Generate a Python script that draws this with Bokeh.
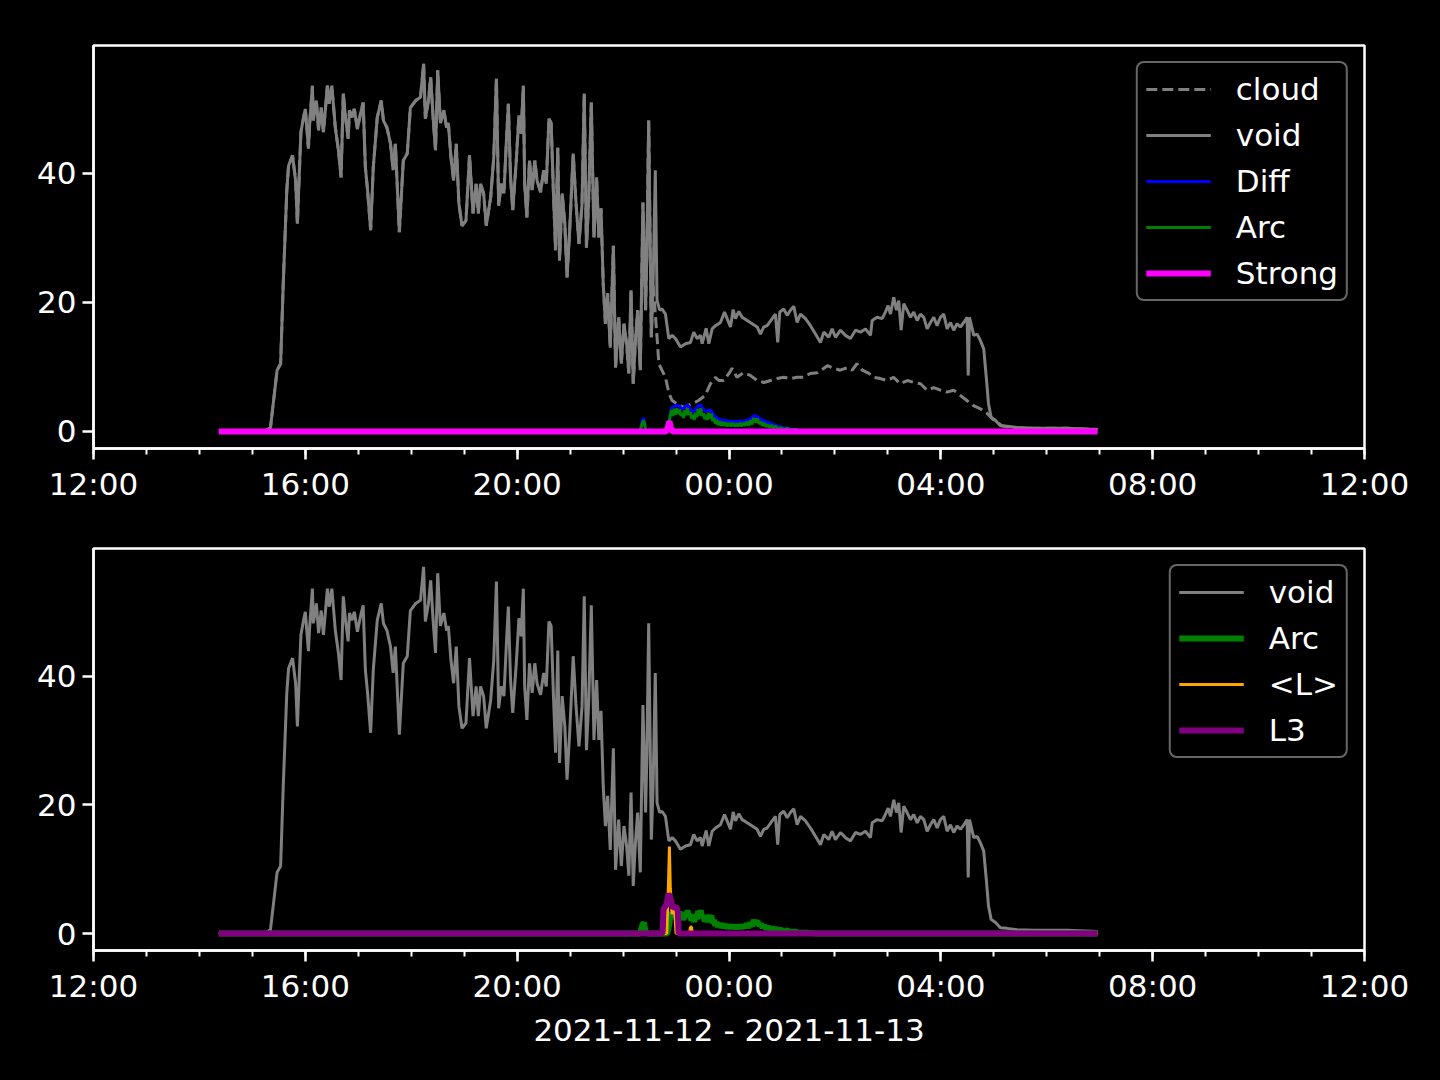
import pandas as pd
from bokeh.plotting import figure
from bokeh.models import Range1d, FixedTicker, DatetimeTickFormatter
from bokeh.layouts import column
from bokeh.embed import file_html
from bokeh.resources import INLINE

# ---------------- data (minutes after 2021-11-12 12:00) ----------------
START = "2021-11-12 12:00"
X_LABEL = "2021-11-12 - 2021-11-13"
major_tick_hours = [0, 4, 8, 12, 16, 20, 24]
minor_tick_hours = list(range(0, 25))
y_ticks = [0, 20, 40]

void_min = [142, 195, 200.5, 208, 212, 215, 219, 221, 225.5, 229, 231, 233, 235, 238, 240, 243.5,
            245, 248, 249, 252.5, 255, 258, 260.5, 265, 267, 270, 274, 277.5, 280.5, 283, 285.5,
            288.5, 290, 293, 295.5, 299, 302.5, 305.5, 308, 310.5, 314, 317, 321.5, 326, 328.5,
            332.5, 336.5, 339.5, 342, 346.5, 351, 355.5, 359, 365, 370.5, 374, 376, 379.5, 382,
            385, 387.5, 390, 393, 397, 400, 402, 405, 408, 411, 414, 417.5, 422, 426, 430, 433.5,
            436, 438.5, 442, 445, 450, 453.5, 456.5, 459, 462, 465, 468, 470, 472.5, 475, 479,
            482, 484.5, 487, 488.5, 491, 494, 497, 500, 502.5, 506.5, 510, 513, 516, 518.5, 521,
            523.5, 526, 528, 531, 534, 536.5, 539.5, 543.5, 546.5, 550, 553.5, 556, 558.5, 561,
            564, 567, 570, 572.5, 575, 577.5, 580, 582.5, 585.5, 589, 591.5, 595, 598, 601, 604,
            606.5, 609, 611.5, 614, 616.5, 619.5, 622.5, 625.5, 627, 629, 632, 634, 636.5, 638.5,
            641.5, 644, 648, 651.8, 655.6, 659.3, 665, 670.7, 676.3, 680.1, 683.9, 687.7, 689.6,
            694.1, 697.1, 700.9, 704.7, 710.3, 714.9, 717.9, 721.7, 724.7, 727.3, 731.1, 734.9,
            740.6, 746.3, 751.9, 755.6, 759.4, 763.2, 768.9, 772.6, 775.2, 777.5, 782, 785.9,
            789.6, 793.4, 797.2, 801, 806.6, 812.3, 818, 823.6, 827.4, 833, 836.8, 840.6, 846.3,
            851.9, 857.6, 863.3, 868.9, 874.6, 880.3, 882.2, 887.8, 893.5, 897.2, 900.3, 902.9,
            906.7, 909.7, 912.3, 915, 918, 921.8, 925.6, 929.3, 933.2, 936.9, 940.7, 944.5, 948.2,
            952, 955.8, 959.5, 963.3, 967.1, 970.9, 974.6, 978.4, 982.2, 986, 989.8, 991, 992.5,
            997.3, 1001.1, 1004.8, 1008.6, 1011.5, 1014, 1017, 1022, 1027.5, 1035, 1046.5, 1065,
            1103, 1137.5]
void_val = [0, 0.1, 0.6, 9.5, 10.5, 23, 37.4, 41.2, 42.8, 38.9, 32.2, 39.4, 46.4, 48.7, 50, 43.9,
            47.8, 53.6, 48.2, 51.3, 46.7, 50.2, 46.4, 53.6, 50.8, 53.6, 47.1, 43.6, 39.4, 52.4, 48.7,
            45.4, 49.8, 48.7, 50, 46.9, 49.3, 51, 41, 37.4, 31.2, 41, 48.7, 51.3, 48.2,
            47.1, 44.6, 40.5, 44.6, 30.9, 42, 43.1, 50.2, 51.3, 51.8, 57, 48.5, 51.3, 54.9,
            48.2, 43.6, 56, 47.8, 49.8, 47.1, 47.8, 42.5, 38.9, 44.6, 35.3, 31.9, 32.7, 42.8, 33.8, 38.4,
            33.8, 38.4, 36.9, 31.9, 36.3, 42.5, 54.7, 35, 38.4, 36.9, 45.6, 50.8, 39.4, 34.3, 42,
            49, 46.2, 53.6, 38.4, 33.2, 42, 37.4, 42, 38.9, 37.1, 40.5, 38.4, 48.5, 47.8, 37.4,
            28.1, 44, 26.5, 36.9, 32.2, 23.9, 31.2, 43.1, 35.8, 29.1, 35.3, 52.4, 28.5, 35.8,
            51, 30.1, 39.4, 30.1, 34.6, 22.9, 16.7, 21.4, 13, 28.8, 9.9, 17.7, 10.5, 16.7, 13.6,
            9, 21.9, 7.4, 14.1, 18.8, 9.5, 35.5, 18.8, 28.1, 48.2, 14.6, 22.9, 40.5, 20.3,
            18.8, 19.0, 18.2, 14.4, 14.9, 14.4, 13.1, 13.6, 13.8, 15.4, 14.4, 14.9, 13.6,
            16.0, 13.6, 15.9, 16.4, 16.9, 18.5, 17.5, 16.2, 18.9, 17.5, 18.6, 17.7,
            17.2, 16.7, 16.2, 15.1, 16.2, 16.4, 17.5, 18.2, 13.8, 18.5, 19.0, 18.0,
            18.8, 19.4, 16.9, 18.2, 17.5, 16.4, 15.1, 13.8, 15.4, 14.6, 15.9, 14.6, 15.7,
            14.9, 14.4, 15.7, 15.4, 15.9, 14.9, 17.2, 17.7, 17.5, 18.5, 19.5, 18.2,
            20.8, 18.8, 20.3, 15.7, 19.8, 18.8, 17.7, 18.5, 17.2, 18.2, 17.7, 15.9, 16.9,
            17.7, 16.4, 17.7, 18.2, 15.9, 16.9, 15.7, 16.7, 16.2, 16.9, 17.7, 8.7, 17.7,
            14.9, 15.1, 14.1, 12.8, 8.4, 4.3, 2.2, 1.7, 0.9, 0.8, 0.6, 0.5,
            0.5, 0.3]

cloud_split = 636.5
cloud_tail_min = [638.5, 640.5, 644, 648, 652, 655.5, 661, 669, 678, 685.5, 693, 699, 704.5, 708.5,
                  714, 720, 723.5, 729, 736.5, 744, 752, 759.5, 767, 774.5, 782, 789.5, 797, 804.5,
                  812, 820, 827.5, 831.5, 838.5, 846, 854, 859.5, 865, 871, 878.5, 884, 891.5, 899,
                  906.5, 914, 922, 929.5, 937, 944.5, 952, 959.5, 967, 974.5, 982, 989.5, 997, 1005,
                  1012.5, 1018, 1024, 1029.5, 1039, 1065, 1103, 1137.5]
cloud_tail_val = [14.6, 10.5, 9.5, 8.4, 5.9, 4.8, 4.3, 3.7, 4.3, 4.8, 5.6, 7.4, 8.4, 7.9,
                  7.9, 9, 9.8, 8.4, 9.1, 8.7, 7.9, 7.6, 7.9, 8.2, 8.4, 8.2, 8.4, 8.4,
                  9, 9.1, 9.8, 10.2, 9.8, 9.5, 9.9, 9.5, 10.5, 9.5, 9, 8.4, 8.2, 7.9,
                  8.4, 7.4, 7.9, 7.6, 7.4, 6.4, 6.8, 6.4, 6.1, 6.4, 5.6, 4.8, 4, 3.5,
                  2.8, 2, 1.4, 0.9, 0.6, 0.5, 0.5, 0.3]

diff_min = [142, 619, 622, 623.5, 625.5, 628, 650, 652, 654, 656, 658, 661, 664, 667, 670, 673, 676,
            679, 682, 685, 688, 691, 694, 697, 700, 703, 706, 709, 712, 716, 720, 726, 732, 738,
            742, 746, 749, 752, 756, 760, 765, 770, 776, 782, 790, 800, 815, 830, 1137.5]
diff_val = [0, 0, 1.9, 2.0, 0.4, 0, 0, 1.5, 3.2, 3.8, 3.9, 4.1, 3.9, 3.4, 3.8, 4.1, 3.6,
            3.0, 3.4, 4.0, 4.1, 3.4, 3.1, 3.3, 3.2, 2.5, 2.1, 1.9, 1.8, 1.7, 1.6, 1.5, 1.6, 1.6,
            1.8, 2.1, 2.5, 2.3, 1.9, 1.6, 1.4, 1.1, 0.8, 0.6, 0.4, 0.2, 0.1, 0, 0]

arc_min = [142, 619, 622, 623.5, 625.5, 628, 650, 652, 653.5, 655, 656.5, 658, 659.5, 661, 662.5,
           664, 665.5, 667, 668.5, 670, 671.5, 673, 674.5, 676, 677.5, 679, 680.5, 682, 683.5, 685,
           686.5, 688, 689.5, 691, 692.5, 694, 695.5, 697, 698.5, 700, 701.5, 703, 704.5, 706,
           707.5, 709, 710.5, 712, 714, 716, 718, 720, 722, 724, 726, 728, 730, 732, 734, 736,
           738, 740, 742, 744, 746, 748, 750, 752, 754, 756, 758, 760, 762, 764, 766, 768, 770,
           773, 776, 779, 782, 786, 790, 795, 800, 810, 820, 1137.5]
arc_val = [0, 0, 1.4, 1.7, 0.3, 0, 0, 1.2, 2.6, 3.3, 2.4, 3.5, 2.6, 3.6, 2.7,
           3.4, 2.4, 2.9, 2.1, 3.3, 2.5, 3.6, 2.6, 3.0, 2.0, 2.6, 1.8, 2.9, 2.2, 3.5,
           2.5, 3.6, 2.4, 2.8, 1.9, 2.6, 1.8, 2.9, 2.0, 2.8, 1.6, 2.1, 1.2, 1.8,
           1.0, 1.6, 0.9, 1.5, 0.9, 1.4, 0.8, 1.3, 0.8, 1.3, 0.8, 1.2, 0.8, 1.3, 0.8, 1.3,
           0.9, 1.5, 0.9, 1.7, 1.1, 2.1, 1.4, 2.0, 1.2, 1.5, 0.9, 1.3, 0.7, 1.1, 0.6, 1.0, 0.5,
           0.8, 0.4, 0.6, 0.3, 0.5, 0.2, 0.3, 0.1, 0.1, 0, 0]

strong_min = [142, 649, 651, 652.5, 654, 656, 1137.5]
strong_val = [0, 0, 0.8, 1.6, 0.6, 0, 0]

lavg_min = [142, 649.5, 651.5, 652.5, 653.5, 655.5, 657, 658.5, 660, 675, 676.5, 677.5, 678.5, 1137.5]
lavg_val = [0, 0, 8.0, 13.5, 7.0, 3.0, 4.3, 3.5, 0, 0, 1.0, 1.0, 0, 0]

l3_min = [142, 644.6, 645.8, 649.2, 651.4, 653.7, 656, 660, 662, 663, 1137.5]
l3_val = [0, 0, 3.8, 4.5, 6.2, 5.5, 4.0, 4.2, 3.5, 0, 0]

# ---------------- helpers ----------------
base = pd.Timestamp(START)


def to_dt(minutes):
    return base + pd.to_timedelta(pd.Series(minutes, dtype=float), unit="m")


def to_ms(hours):
    return [(base + pd.Timedelta(hours=h) - pd.Timestamp("1970-01-01")) / pd.Timedelta(milliseconds=1)
            for h in hours]


cloud_min = [m for m in void_min if m < cloud_split] + cloud_tail_min
cloud_val = [v for m, v in zip(void_min, void_val) if m < cloud_split] + cloud_tail_val

FONT = "DejaVu Sans"
FS = "31px"
WHITE = "white"


def make_fig(height, border_top, border_bottom, xlabel=None):
    p = figure(width=1440, height=height, x_axis_type="datetime",
               x_range=Range1d(base, base + pd.Timedelta(hours=24)),
               y_range=Range1d(-2.64, 59.84),
               output_backend="svg", toolbar_location=None, tools="",
               min_border_left=93, min_border_right=76,
               min_border_top=border_top, min_border_bottom=border_bottom,
               background_fill_color="black", border_fill_color="black")
    p.grid.visible = False
    p.outline_line_color = WHITE
    p.outline_line_width = 2.5
    p.xaxis.ticker = FixedTicker(ticks=to_ms(major_tick_hours), minor_ticks=to_ms(minor_tick_hours))
    fmt = "%H:%M"
    p.xaxis.formatter = DatetimeTickFormatter(microseconds=fmt, milliseconds=fmt, seconds=fmt,
                                              minsec=fmt, minutes=fmt, hourmin=fmt, hours=fmt,
                                              days=fmt, months=fmt, years=fmt)
    p.yaxis.ticker = FixedTicker(ticks=y_ticks, minor_ticks=[])
    for ax in (p.xaxis[0], p.yaxis[0]):
        ax.axis_line_color = WHITE
        ax.axis_line_width = 2.5
        ax.major_tick_line_color = WHITE
        ax.major_tick_line_width = 2.5
        ax.minor_tick_line_color = WHITE
        ax.minor_tick_line_width = 2
        ax.major_tick_in = 0
        ax.major_tick_out = 11
        ax.minor_tick_in = 0
        ax.minor_tick_out = 6
        ax.major_label_text_color = WHITE
        ax.major_label_text_font = FONT
        ax.major_label_text_font_size = FS
        ax.major_label_standoff = 6
    if xlabel:
        p.xaxis.axis_label = xlabel
        p.xaxis.axis_label_text_color = WHITE
        p.xaxis.axis_label_text_font = FONT
        p.xaxis.axis_label_text_font_size = FS
        p.xaxis.axis_label_text_font_style = "normal"
        p.xaxis.axis_label_standoff = 5
    return p


def style_legend(p):
    lg = p.legend[0]
    lg.location = "top_right"
    lg.margin = 16
    lg.padding = 8
    lg.spacing = 10
    lg.glyph_width = 65
    lg.glyph_height = 36
    lg.label_height = 36
    lg.label_standoff = 25
    lg.label_text_font = FONT
    lg.label_text_font_size = FS
    lg.label_text_color = WHITE
    lg.background_fill_color = "black"
    lg.background_fill_alpha = 0.8
    lg.border_line_color = "#cccccc"
    lg.border_line_width = 2.5
    lg.border_radius = 8


# ---------------- top panel ----------------
p1 = make_fig(505, 45, 57)
p1.line(to_dt(cloud_min), cloud_val, color="gray", line_width=3, line_dash="11 5", legend_label="cloud")
p1.line(to_dt(void_min), void_val, color="gray", line_width=3, legend_label="void")
p1.line(to_dt(diff_min), diff_val, color="blue", line_width=3, legend_label="Diff")
p1.line(to_dt(arc_min), arc_val, color="green", line_width=3, legend_label="Arc")
p1.line(to_dt(strong_min), strong_val, color="magenta", line_width=6, legend_label="Strong")
style_legend(p1)

# ---------------- bottom panel ----------------
p2 = make_fig(573, 43, 128, X_LABEL)
p2.line(to_dt(void_min), void_val, color="gray", line_width=3, legend_label="void")
p2.line(to_dt(arc_min), arc_val, color="green", line_width=6, legend_label="Arc")
p2.line(to_dt(lavg_min), lavg_val, color="orange", line_width=3, legend_label="<L>")
p2.line(to_dt(l3_min), l3_val, color="purple", line_width=6, legend_label="L3")
style_legend(p2)

layout = column(p1, p2, styles={"background-color": "black"})
html = file_html(layout, INLINE)
html = html.replace("</head>", "<style>html, body { background-color: #000000; }</style></head>", 1)
open("out.html", "w").write(html)
